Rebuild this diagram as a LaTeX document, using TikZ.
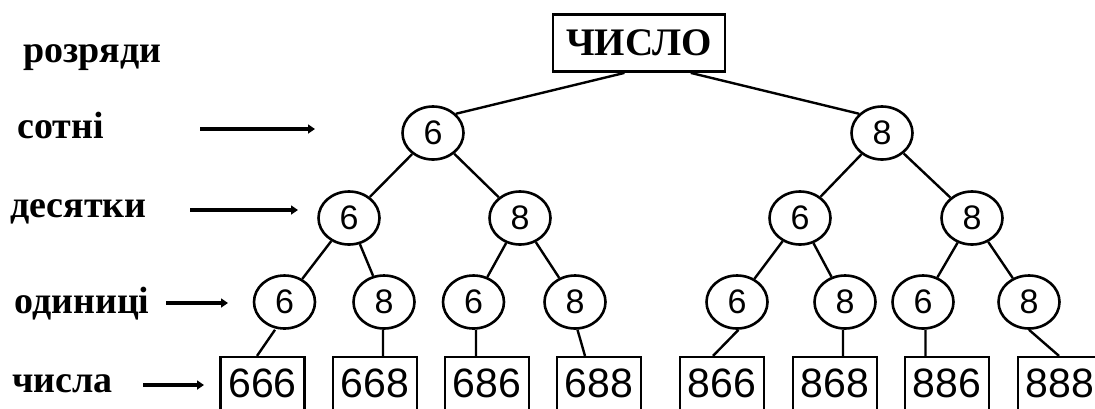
\documentclass[tikz,border=0pt]{standalone}
\usepackage{fontspec}
\setmainfont{Liberation Serif}
\newfontfamily\digitfont{Liberation Sans}
\usetikzlibrary{shapes.geometric,arrows.meta,positioning}

\tikzset{
  digit/.style={ellipse,draw,line width=2.6bp,inner sep=0pt,
    minimum width=61bp,minimum height=53bp,
    font=\digitfont\fontsize{34bp}{34bp}\selectfont},
  numbox/.style={rectangle,draw,line width=2.2bp,inner sep=0pt,
    minimum width=84bp,minimum height=53bp,
    font=\digitfont\fontsize{41bp}{41bp}\selectfont},
  rank/.style={anchor=base west,inner sep=0pt,
    font=\bfseries\fontsize{38bp}{38bp}\selectfont},
  pointer/.style={line width=3.2bp,-{Triangle[length=7bp,width=9bp]}},
  link/.style={line width=2.4bp}
}

\begin{document}
\begin{tikzpicture}[x=1bp,y=-1bp]
  \useasboundingbox (0,0) rectangle (1095,408);
  \clip (0,0) rectangle (1095,408);

  % left column
  \node[rank] (razr) at (23,62)  {розряди};
  \node[rank] (sot)  at (17,138) {сотні};
  \node[rank] (des)  at (10,217) {десятки};
  \node[rank] (od)   at (14,313) {одиниці};
  \node[rank] (chys) at (12,392) {числа};

  \coordinate (p1) at (200,129); \coordinate (q1) at (315,129);
  \coordinate (p2) at (190,210); \coordinate (q2) at (298,210);
  \coordinate (p3) at (166,303); \coordinate (q3) at (228,303);
  \coordinate (p4) at (143,385); \coordinate (q4) at (204,385);
  \draw[pointer] (p1) -- (q1);
  \draw[pointer] (p2) -- (q2);
  \draw[pointer] (p3) -- (q3);
  \draw[pointer] (p4) -- (q4);

  % tree
  \node[draw,line width=2.8bp,inner sep=0pt,minimum width=172bp,minimum height=57bp,
    font=\bfseries\fontsize{39bp}{39bp}\selectfont] (num) at (639,43) {ЧИСЛО};

  \node[digit] (c6) at (433,133) {6};
  \node[digit] (c8) at (882,133) {8};

  \node[digit] (c66) at (349,218) {6};
  \node[digit] (c68) at (520,218) {8};
  \node[digit] (c86) at (800,218) {6};
  \node[digit] (c88) at (972,218) {8};

  \node[digit] (c666) at (284.5,302) {6};
  \node[digit] (c668) at (384,302)   {8};
  \node[digit] (c686) at (473.5,302) {6};
  \node[digit] (c688) at (575,302)   {8};
  \node[digit] (c866) at (737,302)   {6};
  \node[digit] (c868) at (845,302)   {8};
  \node[digit] (c886) at (923,302)   {6};
  \node[digit] (c888) at (1029,302)  {8};

  \node[numbox] (b666) at (262.5,383.5) {666};
  \node[numbox] (b668) at (375,383.5)   {668};
  \node[numbox] (b686) at (487,383.5)   {686};
  \node[numbox] (b688) at (599,383.5)   {688};
  \node[numbox] (b866) at (722,383.5)   {866};
  \node[numbox] (b868) at (835,383.5)   {868};
  \node[numbox] (b886) at (947,383.5)   {886};
  \node[numbox] (b888) at (1060,383.5)  {888};

  \path[link]
  (num.-116.6) edge (c6.40)
  (num.-30) edge (c8.140)
  (c6) edge (c66) (c6) edge (c68)
  (c8) edge (c86) (c8) edge (c88)
  (c66) edge (c666) (c66) edge (c668)
  (c68) edge (c686) (c68) edge (c688)
  (c86) edge (c866) (c86) edge (c868)
  (c88) edge (c886) (c88) edge (c888)
  ([xshift=-9.5bp]c666.south) edge ([xshift=-5.5bp]b666.north)
  ([xshift=-1bp]c668.south) edge ([xshift=8bp]b668.north)
  ([xshift=2.5bp]c686.south) edge ([xshift=-11bp]b686.north)
  ([xshift=2.5bp]c688.south) edge ([xshift=-14bp]b688.north)
  ([xshift=1.5bp]c866.south) edge ([xshift=-9bp]b866.north)
  ([xshift=-2bp]c868.south) edge ([xshift=8bp]b868.north)
  ([xshift=2.5bp]c886.south) edge ([xshift=-21.5bp]b886.north)
  (c888.south) edge ([xshift=-1bp]b888.north)
  ;
\end{tikzpicture}
\end{document}
